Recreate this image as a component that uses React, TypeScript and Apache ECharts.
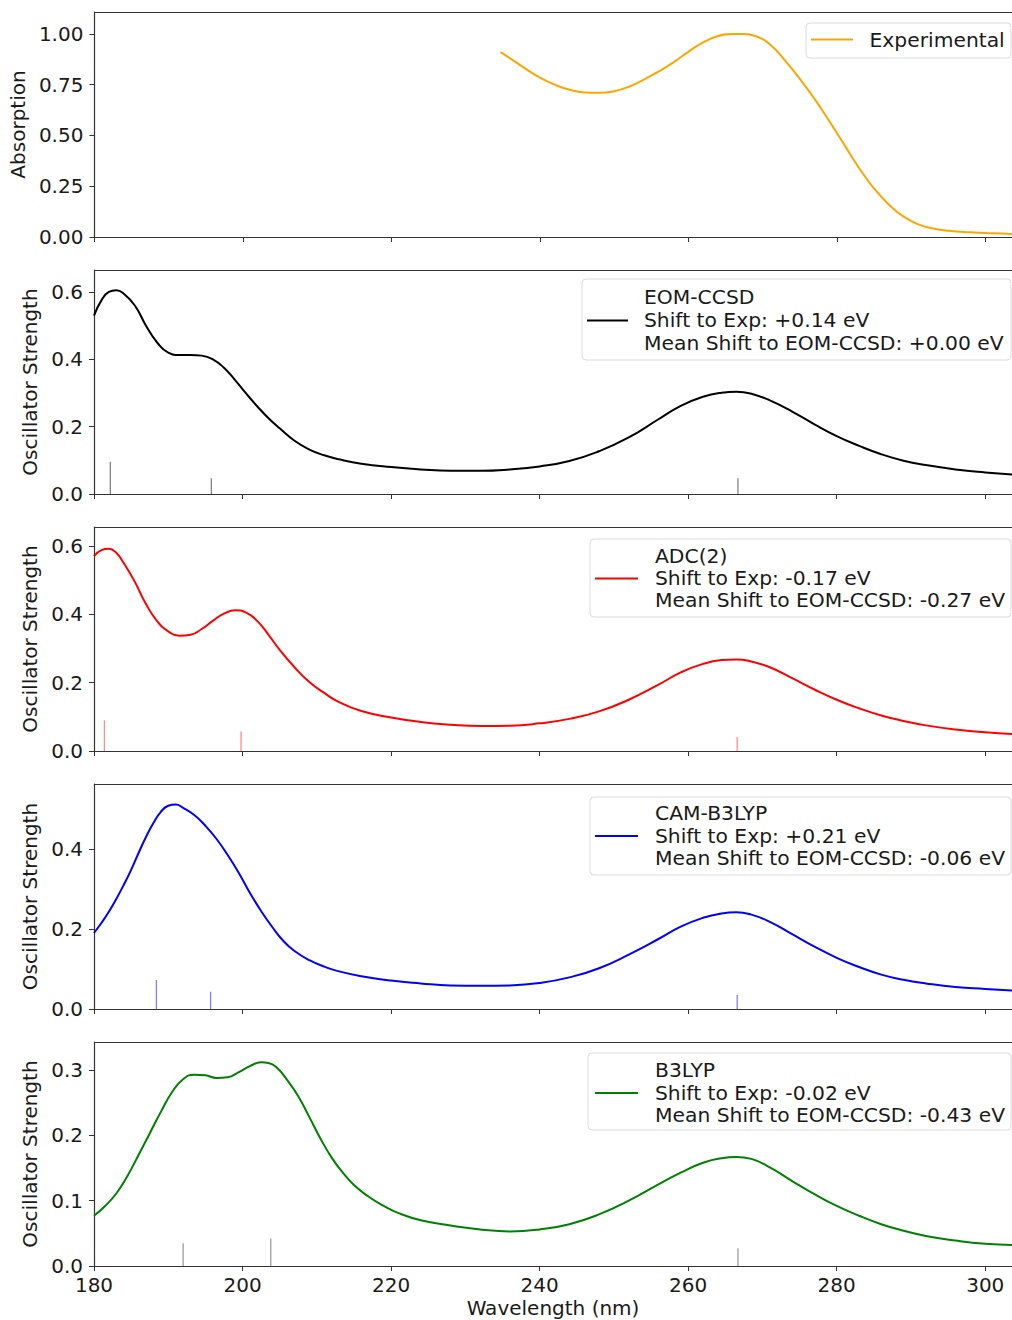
import React, { useEffect, useRef } from "react";
import * as echarts from "echarts";

// ---------------- DATA ----------------
const xTicks = [180, 200, 220, 240, 260, 280, 300];

const expWl = [234.7, 236, 238, 240, 242, 244, 246, 248, 250, 252, 254, 256, 258, 260, 262, 264, 266, 267.5, 269, 271, 273, 275, 277, 279, 281, 283, 285, 287, 289, 291, 293, 295, 298, 301, 303.6];
const expAbs = [0.91, 0.88, 0.83, 0.785, 0.75, 0.725, 0.712, 0.71, 0.718, 0.74, 0.775, 0.815, 0.86, 0.912, 0.958, 0.99, 1.0, 1.0, 0.99, 0.948, 0.87, 0.78, 0.68, 0.57, 0.455, 0.34, 0.24, 0.16, 0.1, 0.062, 0.042, 0.031, 0.023, 0.018, 0.015];

const eomWl = [180, 181, 182, 183, 184, 185.5, 187, 188.5, 190, 191.5, 193, 194.5, 196, 197.5, 199, 200.5, 202, 203.5, 205, 207, 209, 211, 213, 216, 220, 224, 228, 232, 236, 240, 244, 248, 252, 256, 259, 262, 264.5, 266.5, 268.5, 271, 274, 277, 280, 283, 286, 289, 292, 296, 300, 303.6];
const eomF = [0.53, 0.575, 0.6, 0.605, 0.595, 0.56, 0.5, 0.45, 0.42, 0.413, 0.413, 0.411, 0.4, 0.375, 0.338, 0.298, 0.26, 0.225, 0.195, 0.158, 0.132, 0.115, 0.103, 0.09, 0.08, 0.073, 0.069, 0.069, 0.073, 0.082, 0.098, 0.127, 0.168, 0.222, 0.262, 0.289, 0.301, 0.304, 0.298, 0.278, 0.245, 0.207, 0.172, 0.143, 0.118, 0.099, 0.086, 0.073, 0.064, 0.058];
const eomStickWl = [182.2, 195.8, 266.7];
const eomStickF = [0.096, 0.047, 0.047];

const adcWl = [180, 181, 182, 183, 184, 185.5, 187, 188.5, 190, 191.5, 193, 194.5, 196, 197.5, 199, 200.5, 202, 203.5, 205, 207, 209, 211, 213, 216, 220, 224, 228, 232, 236, 240, 244, 248, 252, 256, 259, 262, 264.5, 266.5, 268.5, 271, 274, 277, 280, 283, 286, 289, 292, 296, 300, 303.6];
const adcF = [0.57, 0.588, 0.592, 0.58, 0.55, 0.495, 0.43, 0.38, 0.35, 0.337, 0.34, 0.357, 0.381, 0.402, 0.412, 0.405, 0.38, 0.34, 0.296, 0.245, 0.202, 0.17, 0.143, 0.117, 0.098, 0.085, 0.077, 0.073, 0.074, 0.081, 0.094, 0.116, 0.15, 0.194, 0.23, 0.255, 0.266, 0.268, 0.262, 0.245, 0.213, 0.18, 0.15, 0.125, 0.104, 0.088, 0.075, 0.063, 0.055, 0.05];
const adcStickWl = [181.4, 199.8, 266.6];
const adcStickF = [0.09, 0.057, 0.041];

const camWl = [180, 181, 182, 183, 184, 185, 186, 187, 188, 189, 190, 191, 192, 193.5, 195, 196.5, 198, 199.5, 201, 202.5, 204, 205.5, 207, 209, 211, 213, 216, 220, 224, 228, 232, 236, 240, 244, 248, 252, 256, 259, 262, 264.5, 266.5, 268.5, 271, 274, 277, 280, 283, 286, 289, 292, 296, 300, 303.6];
const camF = [0.19, 0.215, 0.243, 0.275, 0.31, 0.348, 0.39, 0.43, 0.465, 0.493, 0.508, 0.511, 0.503, 0.485, 0.458, 0.425, 0.385, 0.34, 0.29, 0.245, 0.205, 0.17, 0.145, 0.122, 0.106, 0.094, 0.082, 0.071, 0.064, 0.059, 0.058, 0.059, 0.065, 0.079, 0.102, 0.136, 0.175, 0.206, 0.228, 0.239, 0.242, 0.236, 0.218, 0.187, 0.156, 0.128, 0.105, 0.086, 0.073, 0.064, 0.055, 0.05, 0.046];
const camStickWl = [188.4, 195.7, 266.6];
const camStickF = [0.0725, 0.043, 0.035];

const b3Wl = [180, 181.5, 183, 184.5, 186, 187.5, 189, 190.5, 192, 193.5, 195, 196.5, 198, 199.5, 201, 202.5, 203.5, 204.5, 206, 207.5, 209, 210.5, 212, 213.5, 215, 217, 219, 221, 224, 228, 232, 236, 240, 244, 248, 252, 256, 259, 262, 264.5, 266.5, 268.5, 271, 274, 277, 280, 283, 286, 289, 292, 296, 300, 303.6];
const b3F = [0.077, 0.092, 0.111, 0.138, 0.17, 0.203, 0.236, 0.266, 0.286, 0.293, 0.292, 0.288, 0.289, 0.297, 0.306, 0.312, 0.311, 0.305, 0.285, 0.26, 0.228, 0.195, 0.166, 0.143, 0.124, 0.106, 0.092, 0.081, 0.07, 0.062, 0.056, 0.053, 0.056, 0.064, 0.079, 0.1, 0.125, 0.143, 0.158, 0.165, 0.167, 0.164, 0.151, 0.13, 0.11, 0.092, 0.077, 0.064, 0.054, 0.046, 0.039, 0.034, 0.032];
const b3StickWl = [192.0, 203.8, 266.7];
const b3StickF = [0.035, 0.042, 0.027];

const legendLines = [
  ["Experimental"],
  ["EOM-CCSD", "Shift to Exp: +0.14 eV", "Mean Shift to EOM-CCSD: +0.00 eV"],
  ["ADC(2)", "Shift to Exp: -0.17 eV", "Mean Shift to EOM-CCSD: -0.27 eV"],
  ["CAM-B3LYP", "Shift to Exp: +0.21 eV", "Mean Shift to EOM-CCSD: -0.06 eV"],
  ["B3LYP", "Shift to Exp: -0.02 eV", "Mean Shift to EOM-CCSD: -0.43 eV"],
];

const yTicks = [
  [0, 0.25, 0.5, 0.75, 1.0],
  [0, 0.2, 0.4, 0.6],
  [0, 0.2, 0.4, 0.6],
  [0, 0.2, 0.4],
  [0, 0.1, 0.2, 0.3],
];

// ---------------- LAYOUT / STYLE ----------------
const FONT = '"DejaVu Sans", "Liberation Sans", sans-serif';
const TXT = "#1a1a1a";
const AX = "#333";
const LEFT = 94;
const PLOT_W = 918;
const X_MAX = 303.6;
const tops = [12, 270, 527, 784, 1042];
const heights = [225, 224, 224, 225, 224];
const yMax = [1.108, 0.6653, 0.6556, 0.5625, 0.343];
const yDec = [2, 1, 1, 1, 1];
const yNames = ["Absorption", "Oscillator Strength", "Oscillator Strength", "Oscillator Strength", "Oscillator Strength"];
const yGaps = [63, 49, 49, 49, 49];
const colors = ["#ffa500", "#000000", "#ff0000", "#0000ff", "#008000"];
const stickColors = ["#888", "rgba(80,80,80,0.7)", "rgba(255,0,0,0.45)", "rgba(0,0,255,0.5)", "rgba(90,90,90,0.6)"];

// legend geometry: [boxLeft, boxTop, boxBottom, lineX1, lineX2, lineY, textX, textYs]
const legendGeo: any[] = [
  [806, 23, 58, 811, 853, 39.5, 869.5, [40]],
  [582, 279, 360, 587, 628, 320.5, 644, [297, 320, 343]],
  [590, 539, 617, 595, 638, 578.5, 655, [556, 578, 600]],
  [590, 797, 875, 595, 638, 836, 655, [813, 836, 858]],
  [588, 1053, 1130, 595, 638, 1093, 655, [1070, 1093, 1115]],
];

const pairs = (xs: number[], ys: number[]) => xs.map((x, i) => [x, ys[i]]);

const curves = [
  pairs(expWl, expAbs),
  pairs(eomWl, eomF),
  pairs(adcWl, adcF),
  pairs(camWl, camF),
  pairs(b3Wl, b3F),
];
const sticks: (number[][] | null)[] = [
  null,
  pairs(eomStickWl, eomStickF),
  pairs(adcStickWl, adcStickF),
  pairs(camStickWl, camStickF),
  pairs(b3StickWl, b3StickF),
];

function buildOption() {
  const grid: any[] = [];
  const xAxis: any[] = [];
  const yAxis: any[] = [];
  const series: any[] = [];
  const graphic: any[] = [];

  for (let i = 0; i < 5; i++) {
    grid.push({
      left: LEFT,
      top: tops[i],
      width: PLOT_W,
      height: heights[i],
      show: false,
      containLabel: false,
    });
    const isBottom = i === 4;
    xAxis.push({
      gridIndex: i,
      type: "value",
      min: 180,
      max: X_MAX,
      name: isBottom ? "Wavelength (nm)" : "",
      nameLocation: "middle",
      nameGap: 32,
      nameTextStyle: { fontSize: 20, fontFamily: FONT, color: TXT },
      axisLine: { show: true, onZero: false, lineStyle: { color: AX, width: 1.2 } },
      axisTick: { show: true, length: 5, lineStyle: { color: AX, width: 1 }, customValues: xTicks },
      axisLabel: {
        show: isBottom,
        fontSize: 20,
        fontFamily: FONT,
        color: TXT,
        margin: 9,
        customValues: xTicks,
        formatter: (v: number) => String(Math.round(v)),
      },
      splitLine: { show: false },
    });
    yAxis.push({
      gridIndex: i,
      type: "value",
      min: 0,
      max: yMax[i],
      name: yNames[i],
      nameLocation: "middle",
      nameGap: yGaps[i],
      nameTextStyle: { fontSize: 20, fontFamily: FONT, color: TXT },
      axisLine: { show: true, onZero: false, lineStyle: { color: AX, width: 1.2 } },
      axisTick: { show: true, length: 5, lineStyle: { color: AX, width: 1 }, customValues: yTicks[i] },
      axisLabel: {
        fontSize: 20,
        fontFamily: FONT,
        color: TXT,
        margin: 11,
        customValues: yTicks[i],
        formatter: (v: number) => v.toFixed(yDec[i]),
      },
      splitLine: { show: false },
    });

    const st = sticks[i];
    if (st) {
      const sc = stickColors[i];
      series.push({
        type: "custom",
        xAxisIndex: i,
        yAxisIndex: i,
        data: st,
        encode: { x: 0, y: 1 },
        renderItem: (params: any, api: any) => {
          const x = api.value(0);
          const p0 = api.coord([x, 0]);
          const p1 = api.coord([x, api.value(1)]);
          return {
            type: "line",
            shape: { x1: p0[0], y1: p0[1], x2: p1[0], y2: p1[1] },
            style: { stroke: sc, lineWidth: 1.3 },
          };
        },
        z: 2,
      });
    }
    series.push({
      type: "line",
      xAxisIndex: i,
      yAxisIndex: i,
      data: curves[i],
      showSymbol: false,
      smooth: 0.5,
      lineStyle: { color: colors[i], width: 2 },
      itemStyle: { color: colors[i] },
      z: 3,
    });

    // top spine of the panel frame
    graphic.push({
      type: "line",
      shape: { x1: LEFT, y1: tops[i] + 0.5, x2: 1012, y2: tops[i] + 0.5 },
      style: { stroke: AX, lineWidth: 1.2 },
      z: 5,
    });

    const g = legendGeo[i];
    graphic.push({
      type: "rect",
      shape: { x: g[0], y: g[1], width: 1011 - g[0], height: g[2] - g[1], r: 4 },
      style: { fill: "rgba(255,255,255,0.8)", stroke: "#dcdcdc", lineWidth: 1 },
      z: 10,
    });
    graphic.push({
      type: "line",
      shape: { x1: g[3], y1: g[5], x2: g[4], y2: g[5] },
      style: { stroke: colors[i], lineWidth: 2 },
      z: 11,
    });
    legendLines[i].forEach((t, k) => {
      graphic.push({
        type: "text",
        x: g[6],
        y: g[7][k],
        style: { text: t, fill: TXT, font: `20.3px ${FONT}`, verticalAlign: "middle", align: "left" },
        z: 11,
      });
    });
  }

  return {
    animation: false,
    backgroundColor: "#ffffff",
    grid,
    xAxis,
    yAxis,
    series,
    graphic,
  };
}

export default function App() {
  const ref = useRef<HTMLDivElement>(null);
  useEffect(() => {
    if (!ref.current) return;
    const chart = echarts.init(ref.current, undefined, { renderer: "svg" });
    chart.setOption(buildOption() as any);
    return () => chart.dispose();
  }, []);
  return (
    <div
      ref={ref}
      style={{ position: "absolute", left: 0, top: 0, width: 1012, height: 1320, background: "#fff" }}
    />
  );
}
